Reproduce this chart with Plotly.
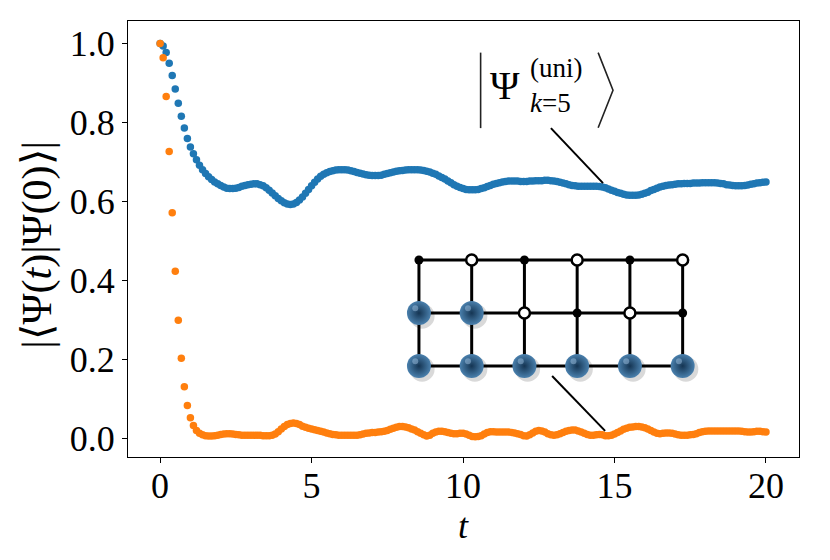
import numpy as np
import plotly.graph_objects as go

# time grid, step 0.1 from 0 to 20
t = np.round(np.arange(201) * 0.1, 1)

# overlap with the uniform superposition state (blue)
fid_uni = [
    1.000, 0.994, 0.977, 0.950, 0.919, 0.885, 0.849, 0.816, 0.786, 0.760,
    0.738, 0.721, 0.706, 0.692, 0.681, 0.671, 0.663, 0.656, 0.650, 0.645,
    0.641, 0.637, 0.634, 0.633, 0.633, 0.634, 0.636, 0.639, 0.641, 0.643,
    0.644, 0.645, 0.645, 0.643, 0.640, 0.635, 0.629, 0.622, 0.615, 0.608,
    0.602, 0.597, 0.594, 0.593, 0.594, 0.598, 0.604, 0.612, 0.621, 0.631,
    0.640, 0.649, 0.657, 0.664, 0.669, 0.673, 0.676, 0.678, 0.680, 0.681,
    0.681, 0.681, 0.680, 0.678, 0.676, 0.674, 0.672, 0.670, 0.668, 0.667,
    0.666, 0.666, 0.666, 0.667, 0.669, 0.671, 0.673, 0.675, 0.677, 0.678,
    0.679, 0.680, 0.681, 0.681, 0.681, 0.681, 0.680, 0.679, 0.677, 0.675,
    0.672, 0.669, 0.665, 0.661, 0.657, 0.652, 0.648, 0.643, 0.639, 0.636,
    0.633, 0.631, 0.630, 0.630, 0.630, 0.631, 0.633, 0.635, 0.638, 0.641,
    0.644, 0.646, 0.648, 0.650, 0.651, 0.652, 0.652, 0.652, 0.652, 0.651,
    0.651, 0.651, 0.652, 0.652, 0.653, 0.653, 0.653, 0.654, 0.654, 0.653,
    0.652, 0.651, 0.649, 0.647, 0.645, 0.643, 0.641, 0.640, 0.639, 0.639,
    0.639, 0.639, 0.639, 0.639, 0.639, 0.638, 0.637, 0.635, 0.632, 0.629,
    0.626, 0.623, 0.621, 0.619, 0.617, 0.616, 0.616, 0.616, 0.617, 0.619,
    0.621, 0.624, 0.628, 0.631, 0.634, 0.637, 0.639, 0.641, 0.642, 0.643,
    0.644, 0.645, 0.645, 0.646, 0.646, 0.646, 0.647, 0.647, 0.647, 0.648,
    0.648, 0.648, 0.648, 0.648, 0.647, 0.646, 0.645, 0.643, 0.642, 0.641,
    0.640, 0.640, 0.640, 0.641, 0.642, 0.644, 0.645, 0.647, 0.648, 0.649,
    0.650,
]

# overlap with the lattice state shown in the inset (orange)
fid_lat = [
    1.000, 0.964, 0.866, 0.727, 0.572, 0.424, 0.300, 0.204, 0.132, 0.084,
    0.053, 0.034, 0.021, 0.014, 0.010, 0.008, 0.007, 0.007, 0.008, 0.009,
    0.011, 0.012, 0.013, 0.013, 0.012, 0.011, 0.010, 0.009, 0.009, 0.009,
    0.009, 0.009, 0.009, 0.009, 0.008, 0.008, 0.008, 0.009, 0.012, 0.018,
    0.025, 0.031, 0.036, 0.039, 0.040, 0.039, 0.036, 0.032, 0.029, 0.027,
    0.025, 0.023, 0.021, 0.019, 0.017, 0.015, 0.013, 0.011, 0.010, 0.009,
    0.009, 0.009, 0.009, 0.009, 0.009, 0.009, 0.010, 0.012, 0.014, 0.015,
    0.016, 0.016, 0.017, 0.018, 0.019, 0.021, 0.024, 0.027, 0.029, 0.031,
    0.031, 0.030, 0.028, 0.025, 0.022, 0.018, 0.014, 0.010, 0.007, 0.009,
    0.014, 0.017, 0.019, 0.019, 0.018, 0.016, 0.014, 0.013, 0.013, 0.014,
    0.014, 0.012, 0.009, 0.006, 0.005, 0.006, 0.008, 0.012, 0.016, 0.018,
    0.018, 0.017, 0.017, 0.017, 0.017, 0.017, 0.016, 0.015, 0.013, 0.011,
    0.008, 0.007, 0.010, 0.015, 0.019, 0.021, 0.020, 0.017, 0.013, 0.010,
    0.009, 0.010, 0.013, 0.016, 0.019, 0.021, 0.022, 0.022, 0.020, 0.017,
    0.014, 0.011, 0.009, 0.009, 0.010, 0.011, 0.010, 0.008, 0.008, 0.009,
    0.012, 0.016, 0.020, 0.024, 0.027, 0.029, 0.030, 0.031, 0.031, 0.030,
    0.028, 0.025, 0.021, 0.017, 0.014, 0.013, 0.014, 0.015, 0.015, 0.014,
    0.012, 0.010, 0.009, 0.009, 0.009, 0.010, 0.011, 0.013, 0.016, 0.018,
    0.019, 0.020, 0.020, 0.020, 0.020, 0.020, 0.020, 0.020, 0.020, 0.020,
    0.020, 0.020, 0.019, 0.018, 0.017, 0.017, 0.018, 0.019, 0.019, 0.018,
    0.017,
]

# inset lattice: 6 columns x 3 rows, site states from top row to bottom row
lat_cols = [0, 1, 2, 3, 4, 5]
lat_rows = [2, 1, 0]
site_states = [
    ["dot", "open", "dot", "open", "dot", "open"],
    ["ball", "ball", "open", "dot", "open", "dot"],
    ["ball", "ball", "ball", "ball", "ball", "ball"],
]

FONT = "Liberation Serif"
BLUE = "#1f77b4"
ORANGE = "#ff7f0e"

fig = go.Figure()

fig.add_trace(go.Scatter(x=t, y=fid_uni, mode="markers",
                         marker=dict(color=BLUE, size=7.5, line_width=0),
                         showlegend=False, hoverinfo="skip"))
fig.add_trace(go.Scatter(x=t, y=fid_lat, mode="markers",
                         marker=dict(color=ORANGE, size=7.5, line_width=0),
                         showlegend=False, hoverinfo="skip"))

# lattice bonds
ex, ey = [], []
for r in lat_rows:
    ex += [lat_cols[0], lat_cols[-1], None]
    ey += [r, r, None]
for c in lat_cols:
    ex += [c, c, None]
    ey += [lat_rows[0], lat_rows[-1], None]
fig.add_trace(go.Scatter(x=ex, y=ey, mode="lines", xaxis="x2", yaxis="y2",
                         line=dict(color="black", width=3),
                         showlegend=False, hoverinfo="skip"))

sites = {"dot": ([], []), "open": ([], []), "ball": ([], [])}
for r, row in zip(lat_rows, site_states):
    for c, s in zip(lat_cols, row):
        sites[s][0].append(c)
        sites[s][1].append(r)

fig.add_trace(go.Scatter(x=sites["dot"][0], y=sites["dot"][1], mode="markers",
                         xaxis="x2", yaxis="y2",
                         marker=dict(color="black", size=9, line_width=0),
                         showlegend=False, hoverinfo="skip"))
fig.add_trace(go.Scatter(x=sites["open"][0], y=sites["open"][1], mode="markers",
                         xaxis="x2", yaxis="y2",
                         marker=dict(color="white", size=11,
                                     line=dict(color="black", width=2.5)),
                         showlegend=False, hoverinfo="skip"))

# balls: soft shadow, shaded sphere, small highlight
bx = np.array(sites["ball"][0], dtype=float)
by = np.array(sites["ball"][1], dtype=float)
fig.add_trace(go.Scatter(x=bx + 0.06, y=by - 0.06, mode="markers",
                         xaxis="x2", yaxis="y2",
                         marker=dict(color="rgba(0,0,0,0.15)", size=25, line_width=0),
                         showlegend=False, hoverinfo="skip"))
fig.add_trace(go.Scatter(x=bx, y=by, mode="markers", xaxis="x2", yaxis="y2",
                         marker=dict(color="#4a80ad", size=24, line_width=0,
                                     gradient=dict(type="radial", color="#153553")),
                         showlegend=False, hoverinfo="skip"))
fig.add_trace(go.Scatter(x=bx - 0.07, y=by + 0.09, mode="markers",
                         xaxis="x2", yaxis="y2",
                         marker=dict(color="rgba(170,205,235,0.45)", size=6, line_width=0),
                         showlegend=False, hoverinfo="skip"))

axis_common = dict(showline=True, linecolor="black", linewidth=1.3, mirror=True,
                   ticks="outside", ticklen=5, tickwidth=1.3, tickcolor="black",
                   showgrid=False, zeroline=False, automargin=False,
                   tickfont=dict(family=FONT, size=36, color="black"))

# the page body adds an 8px offset, so margins are shifted to compensate
fig.update_layout(
    width=830, height=560,
    margin=dict(l=120, r=39, t=13, b=111, autoexpand=False),
    plot_bgcolor="white", paper_bgcolor="white",
    font=dict(family=FONT, color="black"),
    xaxis=dict(range=[-1.06, 21.09], tickvals=[0, 5, 10, 15, 20],
               ticklabelstandoff=-8, **axis_common),
    yaxis=dict(range=[-0.046, 1.057], tickvals=[0, 0.2, 0.4, 0.6, 0.8, 1.0],
               tickformat=".1f", **axis_common),
    xaxis2=dict(domain=[0.3943, 0.8659], range=[-0.5, 5.5], anchor="y2", visible=False),
    yaxis2=dict(domain=[0.1479, 0.5126], range=[-0.5, 2.5], anchor="x2", visible=False),
)

# ket label for the blue curve
fig.add_shape(type="line", x0=10.58, x1=10.58, y0=0.786, y1=0.977,
              line=dict(color="#222", width=1.6))
fig.add_shape(type="path", path="M 14.46 0.977 L 14.95 0.882 L 14.46 0.787",
              line=dict(color="#222", width=1.6))
fig.add_annotation(x=11.4, y=0.893, text="Ψ", showarrow=False,
                   xanchor="center", yanchor="middle",
                   font=dict(size=40, family=FONT))
fig.add_annotation(x=13.08, y=0.937, text="(uni)", showarrow=False,
                   xanchor="center", yanchor="middle",
                   font=dict(size=27, family=FONT))
fig.add_annotation(x=12.9, y=0.850, text="<i>k</i>=5", showarrow=False,
                   xanchor="center", yanchor="middle",
                   font=dict(size=27, family=FONT))

# pointer lines
fig.add_shape(type="line", x0=12.90, y0=0.786, x1=14.62, y1=0.647,
              line=dict(color="black", width=2))
fig.add_shape(type="line", x0=12.94, y0=0.159, x1=14.69, y1=0.020,
              line=dict(color="black", width=2))

# axis titles
fig.add_annotation(xref="paper", yref="paper", x=-0.136, y=0.486,
                   xanchor="center", yanchor="middle",
                   text="|⟨Ψ(<i>t</i>)|Ψ(0)⟩|", textangle=-90, showarrow=False,
                   font=dict(size=42, family=FONT))
fig.add_annotation(xref="x", yref="paper", x=10, y=-0.158,
                   xanchor="center", yanchor="middle",
                   text="<i>t</i>", showarrow=False,
                   font=dict(size=36, family=FONT))

fig.write_html("out.html")
